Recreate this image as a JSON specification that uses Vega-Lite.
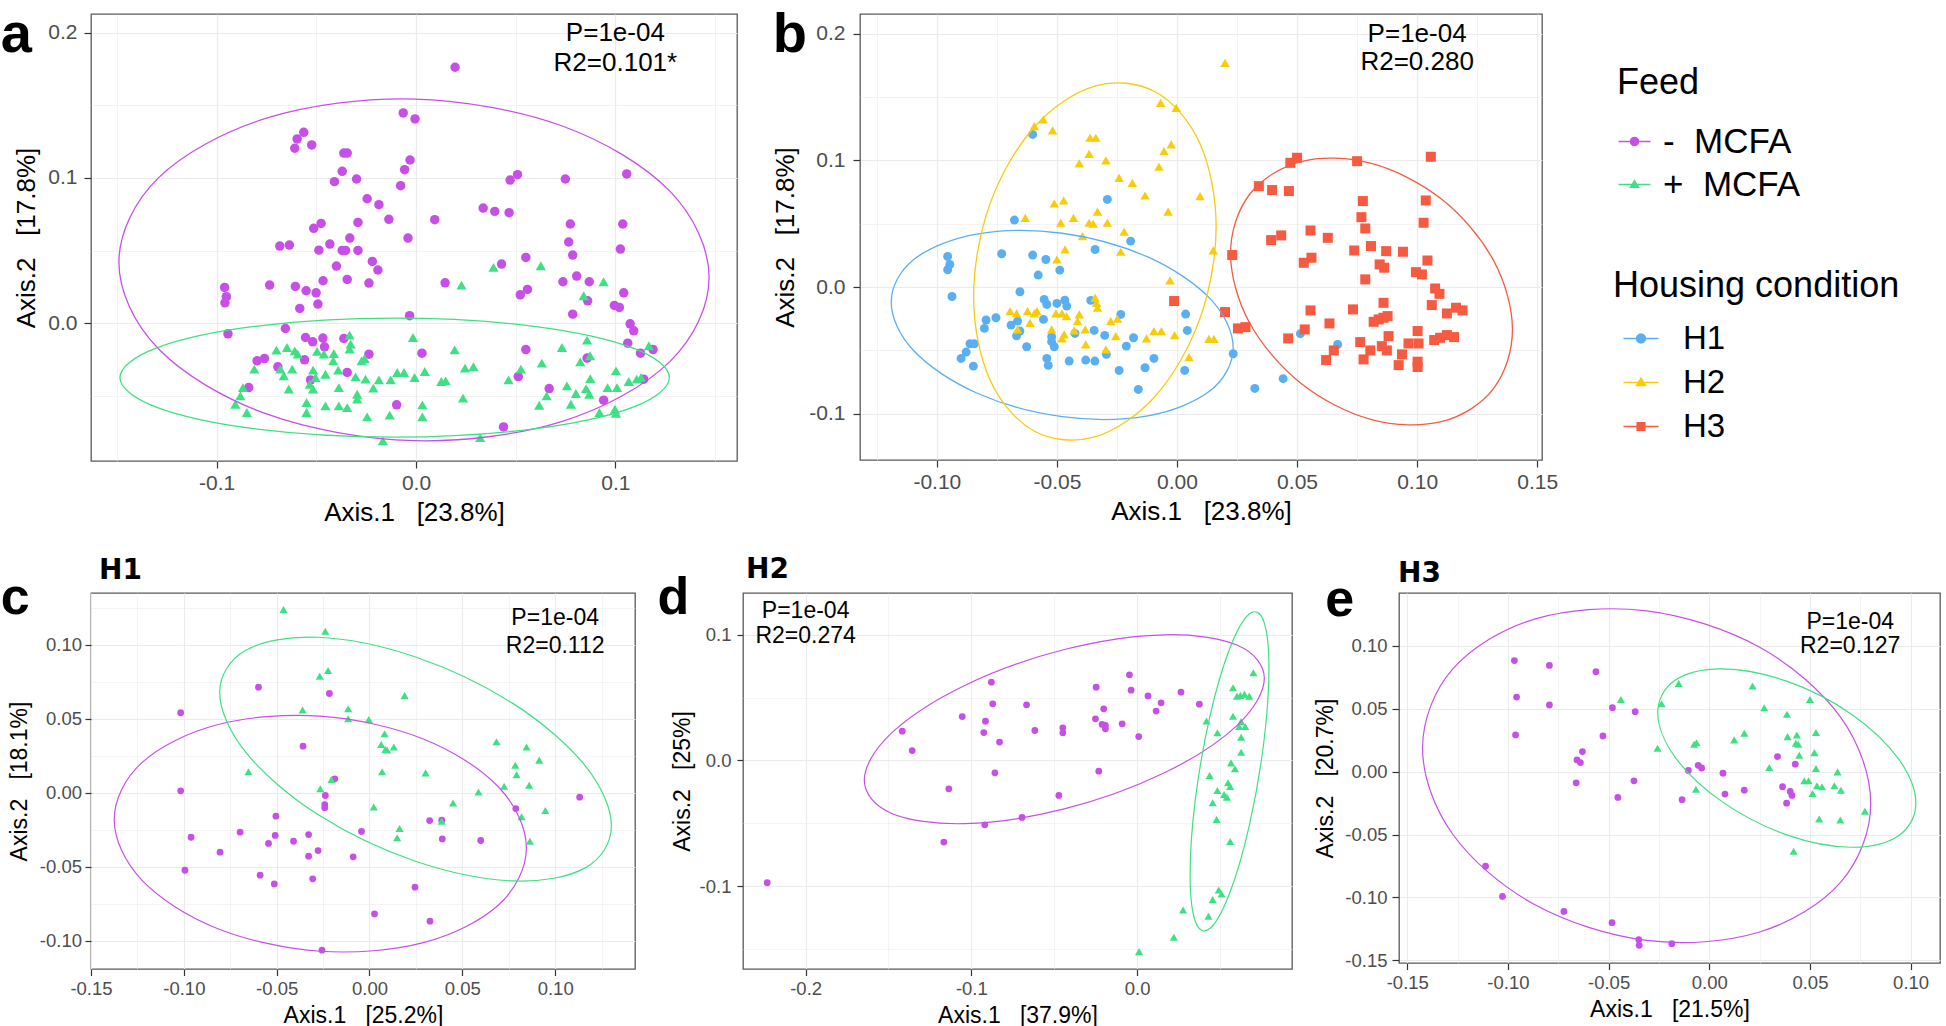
{
"$schema": "https://vega.github.io/schema/vega-lite/v6.json",
"padding": {"top": 6, "left": 0, "right": 0, "bottom": 0},
"background": "white",
"config": {
 "font": "Liberation Sans",
 "view": {"stroke": "#595959", "strokeWidth": 1.3},
 "axis": {"domain": false, "gridColor": "#ebebeb", "tickColor": "#333333", "tickWidth": 1.2, "labelColor": "#4d4d4d", "titleColor": "#000000", "titleFontWeight": "normal", "labelFlush": false, "labelOverlap": false, "labelBound": false, "labelFont": "Liberation Sans", "titleFont": "Liberation Sans"},
 "title": {"color": "#000000"}
},
"datasets": {
 "pa": [
{"g":"-MCFA","x":-0.0064,"y":0.1448},{"g":"-MCFA","x":-0.0005,"y":0.1407},{"g":"-MCFA","x":-0.0563,"y":0.1315},{"g":"-MCFA","x":-0.0596,"y":0.1269},{"g":"-MCFA","x":-0.0608,"y":0.1205},{"g":"-MCFA","x":-0.0523,"y":0.1228},{"g":"-MCFA","x":-0.0362,"y":0.1172},{"g":"-MCFA","x":-0.0345,"y":0.1172},{"g":"-MCFA","x":-0.003,"y":0.1124},{"g":"-MCFA","x":-0.0057,"y":0.1057},{"g":"-MCFA","x":-0.037,"y":0.1046},{"g":"-MCFA","x":-0.0409,"y":0.0975},{"g":"-MCFA","x":-0.0298,"y":0.0993},{"g":"-MCFA","x":-0.0077,"y":0.0947},{"g":"-MCFA","x":-0.0245,"y":0.0857},{"g":"-MCFA","x":-0.0186,"y":0.0816},{"g":"-MCFA","x":-0.0136,"y":0.0715},{"g":"-MCFA","x":-0.0291,"y":0.0694},{"g":"-MCFA","x":-0.0476,"y":0.0687},{"g":"-MCFA","x":-0.0513,"y":0.0653},{"g":"-MCFA","x":-0.004,"y":0.0586},{"g":"-MCFA","x":-0.0332,"y":0.0586},{"g":"-MCFA","x":-0.0683,"y":0.0531},{"g":"-MCFA","x":-0.0635,"y":0.0538},{"g":"-MCFA","x":-0.0432,"y":0.0545},{"g":"-MCFA","x":-0.0487,"y":0.0503},{"g":"-MCFA","x":-0.037,"y":0.0501},{"g":"-MCFA","x":-0.0353,"y":0.0501},{"g":"-MCFA","x":-0.0291,"y":0.0501},{"g":"-MCFA","x":-0.0219,"y":0.0425},{"g":"-MCFA","x":-0.0191,"y":0.0366},{"g":"-MCFA","x":-0.0399,"y":0.0393},{"g":"-MCFA","x":-0.0466,"y":0.0292},{"g":"-MCFA","x":-0.0345,"y":0.0301},{"g":"-MCFA","x":-0.0236,"y":0.0276},{"g":"-MCFA","x":-0.0734,"y":0.0262},{"g":"-MCFA","x":-0.0605,"y":0.0253},{"g":"-MCFA","x":-0.0551,"y":0.0223},{"g":"-MCFA","x":-0.0501,"y":0.0209},{"g":"-MCFA","x":-0.096,"y":0.0246},{"g":"-MCFA","x":-0.0951,"y":0.0182},{"g":"-MCFA","x":-0.0958,"y":0.014},{"g":"-MCFA","x":-0.0583,"y":0.0101},{"g":"-MCFA","x":-0.0492,"y":0.0131},{"g":"-MCFA","x":-0.0032,"y":0.0051},{"g":"-MCFA","x":-0.0655,"y":-0.0037},{"g":"-MCFA","x":-0.0943,"y":-0.0074},{"g":"-MCFA","x":-0.0554,"y":-0.0099},{"g":"-MCFA","x":-0.0518,"y":-0.0129},{"g":"-MCFA","x":-0.0467,"y":-0.0103},{"g":"-MCFA","x":-0.0459,"y":-0.0163},{"g":"-MCFA","x":-0.0362,"y":-0.0106},{"g":"-MCFA","x":-0.0236,"y":-0.0214},{"g":"-MCFA","x":-0.0559,"y":-0.0253},{"g":"-MCFA","x":-0.0797,"y":-0.026},{"g":"-MCFA","x":-0.076,"y":-0.0244},{"g":"-MCFA","x":-0.0693,"y":-0.0301},{"g":"-MCFA","x":-0.0345,"y":-0.034},{"g":"-MCFA","x":-0.0529,"y":-0.0391},{"g":"-MCFA","x":-0.0839,"y":-0.0444},{"g":"-MCFA","x":-0.0097,"y":-0.0563},{"g":"-MCFA","x":0.003,"y":-0.0207},
{"g":"-MCFA","x":0.0196,"y":0.1763},{"g":"-MCFA","x":0.0509,"y":0.1023},{"g":"-MCFA","x":0.0472,"y":0.0986},{"g":"-MCFA","x":0.0749,"y":0.0993},{"g":"-MCFA","x":0.1057,"y":0.1028},{"g":"-MCFA","x":0.0094,"y":0.0713},{"g":"-MCFA","x":0.0337,"y":0.0793},{"g":"-MCFA","x":0.0395,"y":0.077},{"g":"-MCFA","x":0.0467,"y":0.0761},{"g":"-MCFA","x":0.0774,"y":0.0683},{"g":"-MCFA","x":0.1037,"y":0.0683},{"g":"-MCFA","x":0.0766,"y":0.0559},{"g":"-MCFA","x":0.0786,"y":0.0469},{"g":"-MCFA","x":0.1025,"y":0.051},{"g":"-MCFA","x":0.0551,"y":0.0453},{"g":"-MCFA","x":0.0429,"y":0.0407},{"g":"-MCFA","x":0.0146,"y":0.0278},{"g":"-MCFA","x":0.0737,"y":0.0285},{"g":"-MCFA","x":0.0806,"y":0.0324},{"g":"-MCFA","x":0.0869,"y":0.0285},{"g":"-MCFA","x":0.1042,"y":0.0209},{"g":"-MCFA","x":0.0523,"y":0.0195},{"g":"-MCFA","x":0.0559,"y":0.0232},{"g":"-MCFA","x":0.0861,"y":0.0154},{"g":"-MCFA","x":0.0995,"y":0.0122},{"g":"-MCFA","x":0.102,"y":0.0108},{"g":"-MCFA","x":0.0786,"y":0.0062},{"g":"-MCFA","x":0.1074,"y":-0.0005},{"g":"-MCFA","x":0.1092,"y":-0.0053},{"g":"-MCFA","x":0.1062,"y":-0.0138},{"g":"-MCFA","x":0.1126,"y":-0.0207},{"g":"-MCFA","x":0.1189,"y":-0.0182},{"g":"-MCFA","x":0.0551,"y":-0.0182},{"g":"-MCFA","x":0.0513,"y":-0.0368},{"g":"-MCFA","x":0.1142,"y":-0.0386},{"g":"-MCFA","x":0.0668,"y":-0.0451},{"g":"-MCFA","x":0.0941,"y":-0.0531},{"g":"-MCFA","x":0.0439,"y":-0.0715},{"g":"-MCFA","x":0.0858,"y":-0.0241},
{"g":"+MCFA","x":-0.0333,"y":-0.0083},{"g":"+MCFA","x":-0.0015,"y":-0.0099},{"g":"+MCFA","x":-0.0328,"y":-0.0145},{"g":"+MCFA","x":-0.0333,"y":-0.0179},{"g":"+MCFA","x":-0.07,"y":-0.0186},{"g":"+MCFA","x":-0.0647,"y":-0.0168},{"g":"+MCFA","x":-0.0608,"y":-0.0191},{"g":"+MCFA","x":-0.0593,"y":-0.0214},{"g":"+MCFA","x":-0.0496,"y":-0.0195},{"g":"+MCFA","x":-0.0462,"y":-0.0214},{"g":"+MCFA","x":-0.0412,"y":-0.0209},{"g":"+MCFA","x":-0.0415,"y":-0.026},{"g":"+MCFA","x":-0.0273,"y":-0.026},{"g":"+MCFA","x":-0.0258,"y":-0.0244},{"g":"+MCFA","x":-0.0811,"y":-0.0317},{"g":"+MCFA","x":-0.068,"y":-0.0317},{"g":"+MCFA","x":-0.0663,"y":-0.0363},{"g":"+MCFA","x":-0.0621,"y":-0.0317},{"g":"+MCFA","x":-0.0516,"y":-0.0324},{"g":"+MCFA","x":-0.0504,"y":-0.0375},{"g":"+MCFA","x":-0.0454,"y":-0.0352},{"g":"+MCFA","x":-0.039,"y":-0.0324},{"g":"+MCFA","x":-0.0303,"y":-0.037},{"g":"+MCFA","x":-0.0253,"y":-0.0386},{"g":"+MCFA","x":-0.0186,"y":-0.0391},{"g":"+MCFA","x":-0.0127,"y":-0.0391},{"g":"+MCFA","x":-0.0094,"y":-0.034},{"g":"+MCFA","x":-0.006,"y":-0.034},{"g":"+MCFA","x":-0.0007,"y":-0.0375},{"g":"+MCFA","x":-0.0868,"y":-0.0444},{"g":"+MCFA","x":-0.0881,"y":-0.0501},{"g":"+MCFA","x":-0.0638,"y":-0.0455},{"g":"+MCFA","x":-0.0533,"y":-0.0421},{"g":"+MCFA","x":-0.0516,"y":-0.0455},{"g":"+MCFA","x":-0.0387,"y":-0.0444},{"g":"+MCFA","x":-0.0295,"y":-0.049},{"g":"+MCFA","x":-0.0214,"y":-0.0448},{"g":"+MCFA","x":-0.0906,"y":-0.0559},{"g":"+MCFA","x":-0.0848,"y":-0.0616},{"g":"+MCFA","x":-0.0549,"y":-0.0547},{"g":"+MCFA","x":-0.0549,"y":-0.0616},{"g":"+MCFA","x":-0.0454,"y":-0.057},{"g":"+MCFA","x":-0.0387,"y":-0.057},{"g":"+MCFA","x":-0.0345,"y":-0.0582},{"g":"+MCFA","x":-0.0295,"y":-0.0524},{"g":"+MCFA","x":-0.0245,"y":-0.0646},{"g":"+MCFA","x":-0.0132,"y":-0.0634},{"g":"+MCFA","x":0.0032,"y":-0.0646},{"g":"+MCFA","x":0.0032,"y":-0.0563},{"g":"+MCFA","x":-0.0166,"y":-0.0811},
{"g":"+MCFA","x":0.0389,"y":0.0384},{"g":"+MCFA","x":0.0228,"y":0.0262},{"g":"+MCFA","x":0.0626,"y":0.0395},{"g":"+MCFA","x":0.0941,"y":0.0285},{"g":"+MCFA","x":0.0841,"y":0.0189},{"g":"+MCFA","x":0.0194,"y":-0.0184},{"g":"+MCFA","x":0.0732,"y":-0.0168},{"g":"+MCFA","x":0.0858,"y":-0.0117},{"g":"+MCFA","x":0.0873,"y":-0.0225},{"g":"+MCFA","x":0.0824,"y":-0.0267},{"g":"+MCFA","x":0.1168,"y":-0.0156},{"g":"+MCFA","x":0.0044,"y":-0.0333},{"g":"+MCFA","x":0.0246,"y":-0.031},{"g":"+MCFA","x":0.0288,"y":-0.0301},{"g":"+MCFA","x":0.0127,"y":-0.0402},{"g":"+MCFA","x":0.0149,"y":-0.0398},{"g":"+MCFA","x":0.0526,"y":-0.0317},{"g":"+MCFA","x":0.0464,"y":-0.0391},{"g":"+MCFA","x":0.0631,"y":-0.0276},{"g":"+MCFA","x":0.1003,"y":-0.0329},{"g":"+MCFA","x":0.0874,"y":-0.0382},{"g":"+MCFA","x":0.0757,"y":-0.0432},{"g":"+MCFA","x":0.0802,"y":-0.0485},{"g":"+MCFA","x":0.0853,"y":-0.0451},{"g":"+MCFA","x":0.0869,"y":-0.049},{"g":"+MCFA","x":0.0961,"y":-0.0444},{"g":"+MCFA","x":0.1008,"y":-0.0444},{"g":"+MCFA","x":0.1067,"y":-0.0402},{"g":"+MCFA","x":0.1107,"y":-0.0386},{"g":"+MCFA","x":0.1129,"y":-0.0375},{"g":"+MCFA","x":0.0236,"y":-0.0517},{"g":"+MCFA","x":0.0655,"y":-0.0501},{"g":"+MCFA","x":0.0618,"y":-0.0566},{"g":"+MCFA","x":0.0777,"y":-0.0559},{"g":"+MCFA","x":0.092,"y":-0.0616},{"g":"+MCFA","x":0.0998,"y":-0.0593},{"g":"+MCFA","x":0.1003,"y":-0.0621},{"g":"+MCFA","x":0.0322,"y":-0.0789}
 ],
 "pb": [
{"g":"H1","x":-0.0601,"y":0.1205},{"g":"H1","x":-0.0677,"y":0.0529},{"g":"H1","x":-0.029,"y":0.0692},{"g":"H1","x":-0.0193,"y":0.0363},{"g":"H1","x":-0.0341,"y":0.0297},{"g":"H1","x":-0.073,"y":0.0263},{"g":"H1","x":-0.0601,"y":0.0253},{"g":"H1","x":-0.0546,"y":0.0218},{"g":"H1","x":-0.0488,"y":0.0134},{"g":"H1","x":-0.0578,"y":0.0095},{"g":"H1","x":-0.0955,"y":0.0242},{"g":"H1","x":-0.0946,"y":0.0179},{"g":"H1","x":-0.0955,"y":0.0137},{"g":"H1","x":-0.0937,"y":-0.0074},{"g":"H1","x":-0.0654,"y":-0.0037},{"g":"H1","x":-0.0553,"y":-0.0097},{"g":"H1","x":-0.0542,"y":-0.0137},{"g":"H1","x":-0.05,"y":-0.0129},{"g":"H1","x":-0.0467,"y":-0.0103},{"g":"H1","x":-0.0459,"y":-0.015},{"g":"H1","x":-0.0359,"y":-0.0105},{"g":"H1","x":-0.0234,"y":-0.0216},{"g":"H1","x":-0.0754,"y":-0.0242},{"g":"H1","x":-0.0795,"y":-0.026},{"g":"H1","x":-0.0802,"y":-0.0326},{"g":"H1","x":-0.0691,"y":-0.03},{"g":"H1","x":-0.0664,"y":-0.0268},{"g":"H1","x":-0.0654,"y":-0.0347},{"g":"H1","x":-0.0668,"y":-0.0384},{"g":"H1","x":-0.0626,"y":-0.0471},{"g":"H1","x":-0.0556,"y":-0.0255},{"g":"H1","x":-0.0522,"y":-0.0392},{"g":"H1","x":-0.0522,"y":-0.0431},{"g":"H1","x":-0.0511,"y":-0.0471},{"g":"H1","x":-0.0425,"y":-0.0366},{"g":"H1","x":-0.0345,"y":-0.0342},{"g":"H1","x":-0.0301,"y":-0.0381},{"g":"H1","x":-0.0211,"y":-0.0466},{"g":"H1","x":-0.0181,"y":-0.04},{"g":"H1","x":-0.0862,"y":-0.0447},{"g":"H1","x":-0.0844,"y":-0.0447},{"g":"H1","x":-0.0878,"y":-0.0513},{"g":"H1","x":-0.0899,"y":-0.0563},{"g":"H1","x":-0.0848,"y":-0.0624},{"g":"H1","x":-0.0542,"y":-0.0563},{"g":"H1","x":-0.0536,"y":-0.0618},{"g":"H1","x":-0.0449,"y":-0.0584},{"g":"H1","x":-0.038,"y":-0.0576},{"g":"H1","x":-0.0342,"y":-0.0584},{"g":"H1","x":-0.0294,"y":-0.0531},{"g":"H1","x":-0.0241,"y":-0.0658},{"g":"H1","x":-0.0133,"y":-0.0637},{"g":"H1","x":-0.0096,"y":-0.0563},{"g":"H1","x":-0.0161,"y":-0.0808},{"g":"H1","x":0.0032,"y":-0.0658},{"g":"H1","x":0.0036,"y":-0.0213},{"g":"H1","x":0.0043,"y":-0.0342},{"g":"H1","x":0.0234,"y":-0.0526},{"g":"H1","x":0.0324,"y":-0.08},{"g":"H1","x":0.0442,"y":-0.0723},{"g":"H1","x":0.0514,"y":-0.0368},{"g":"H1","x":0.0669,"y":-0.0453},
{"g":"H2","x":-0.0068,"y":0.1455},{"g":"H2","x":-0.0003,"y":0.1415},{"g":"H2","x":-0.0557,"y":0.1323},{"g":"H2","x":-0.0594,"y":0.1271},{"g":"H2","x":-0.0518,"y":0.1237},{"g":"H2","x":-0.0362,"y":0.1179},{"g":"H2","x":-0.0338,"y":0.1179},{"g":"H2","x":-0.0024,"y":0.1126},{"g":"H2","x":-0.0054,"y":0.1073},{"g":"H2","x":-0.0366,"y":0.1052},{"g":"H2","x":-0.0407,"y":0.0976},{"g":"H2","x":-0.0296,"y":0.1},{"g":"H2","x":-0.0075,"y":0.095},{"g":"H2","x":-0.0241,"y":0.0863},{"g":"H2","x":-0.0186,"y":0.0823},{"g":"H2","x":-0.0133,"y":0.0723},{"g":"H2","x":-0.0037,"y":0.0595},{"g":"H2","x":-0.0511,"y":0.066},{"g":"H2","x":-0.0472,"y":0.0684},{"g":"H2","x":-0.0632,"y":0.0547},{"g":"H2","x":-0.0431,"y":0.0547},{"g":"H2","x":-0.0484,"y":0.0508},{"g":"H2","x":-0.0366,"y":0.0508},{"g":"H2","x":-0.0349,"y":0.05},{"g":"H2","x":-0.0331,"y":0.0595},{"g":"H2","x":-0.029,"y":0.0508},{"g":"H2","x":-0.022,"y":0.0437},{"g":"H2","x":-0.0393,"y":0.0403},{"g":"H2","x":-0.0466,"y":0.0297},{"g":"H2","x":-0.05,"y":0.0218},{"g":"H2","x":-0.0234,"y":0.0279},{"g":"H2","x":-0.0029,"y":0.0053},{"g":"H2","x":-0.0341,"y":-0.0084},{"g":"H2","x":-0.0335,"y":-0.0124},{"g":"H2","x":-0.0331,"y":-0.0163},{"g":"H2","x":-0.0695,"y":-0.0189},{"g":"H2","x":-0.0668,"y":-0.0208},{"g":"H2","x":-0.0622,"y":-0.0189},{"g":"H2","x":-0.0594,"y":-0.0208},{"g":"H2","x":-0.0583,"y":-0.0189},{"g":"H2","x":-0.0612,"y":-0.0282},{"g":"H2","x":-0.0504,"y":-0.0208},{"g":"H2","x":-0.0479,"y":-0.0208},{"g":"H2","x":-0.046,"y":-0.0229},{"g":"H2","x":-0.0407,"y":-0.0216},{"g":"H2","x":-0.0414,"y":-0.0268},{"g":"H2","x":-0.0428,"y":-0.0342},{"g":"H2","x":-0.047,"y":-0.0374},{"g":"H2","x":-0.0479,"y":-0.0405},{"g":"H2","x":-0.0382,"y":-0.0334},{"g":"H2","x":-0.0276,"y":-0.0268},{"g":"H2","x":-0.0248,"y":-0.025},{"g":"H2","x":-0.0255,"y":-0.0387},{"g":"H2","x":-0.0296,"y":-0.0492},{"g":"H2","x":-0.038,"y":-0.0453},{"g":"H2","x":-0.0664,"y":-0.0334},{"g":"H2","x":-0.0127,"y":-0.0405},{"g":"H2","x":-0.0096,"y":-0.0347},{"g":"H2","x":-0.0065,"y":-0.0347},{"g":"H2","x":-0.001,"y":-0.0379},{"g":"H2","x":-0.0522,"y":-0.0334},{"g":"H2","x":0.02,"y":0.1771},{"g":"H2","x":0.0096,"y":0.0718},{"g":"H2","x":0.0151,"y":0.029},{"g":"H2","x":0.0133,"y":-0.0408},{"g":"H2","x":0.0154,"y":-0.0408},{"g":"H2","x":0.005,"y":-0.0553},
{"g":"H3","x":0.05,"y":0.1021},{"g":"H3","x":0.0472,"y":0.0981},{"g":"H3","x":0.075,"y":0.0994},{"g":"H3","x":0.1057,"y":0.1029},{"g":"H3","x":0.0341,"y":0.0797},{"g":"H3","x":0.0396,"y":0.0766},{"g":"H3","x":0.0466,"y":0.0758},{"g":"H3","x":0.0774,"y":0.0679},{"g":"H3","x":0.1036,"y":0.0684},{"g":"H3","x":0.0768,"y":0.0552},{"g":"H3","x":0.0784,"y":0.0463},{"g":"H3","x":0.1027,"y":0.0508},{"g":"H3","x":0.0556,"y":0.0447},{"g":"H3","x":0.0628,"y":0.0389},{"g":"H3","x":0.0392,"y":0.0371},{"g":"H3","x":0.0434,"y":0.0408},{"g":"H3","x":0.0738,"y":0.0289},{"g":"H3","x":0.0808,"y":0.0324},{"g":"H3","x":0.0871,"y":0.0284},{"g":"H3","x":0.0941,"y":0.0279},{"g":"H3","x":0.1043,"y":0.021},{"g":"H3","x":0.023,"y":0.0253},{"g":"H3","x":0.0528,"y":0.0192},{"g":"H3","x":0.056,"y":0.0232},{"g":"H3","x":0.0844,"y":0.0179},{"g":"H3","x":0.0863,"y":0.0153},{"g":"H3","x":0.0995,"y":0.0118},{"g":"H3","x":0.102,"y":0.01},{"g":"H3","x":0.0784,"y":0.0061},{"g":"H3","x":0.1075,"y":-0.0011},{"g":"H3","x":0.1093,"y":-0.0053},{"g":"H3","x":0.1061,"y":-0.0142},{"g":"H3","x":0.1124,"y":-0.0208},{"g":"H3","x":0.1162,"y":-0.0163},{"g":"H3","x":0.1189,"y":-0.0184},{"g":"H3","x":0.086,"y":-0.0124},{"g":"H3","x":0.0733,"y":-0.0176},{"g":"H3","x":0.0556,"y":-0.0184},{"g":"H3","x":-0.0012,"y":-0.011},{"g":"H3","x":0.02,"y":-0.0197},{"g":"H3","x":0.0635,"y":-0.0287},{"g":"H3","x":0.0819,"y":-0.0274},{"g":"H3","x":0.084,"y":-0.0255},{"g":"H3","x":0.086,"y":-0.0242},{"g":"H3","x":0.0877,"y":-0.0229},{"g":"H3","x":0.0254,"y":-0.0326},{"g":"H3","x":0.0285,"y":-0.0316},{"g":"H3","x":0.0532,"y":-0.0334},{"g":"H3","x":0.0463,"y":-0.0405},{"g":"H3","x":0.0763,"y":-0.0434},{"g":"H3","x":0.0881,"y":-0.0387},{"g":"H3","x":0.0853,"y":-0.0466},{"g":"H3","x":0.0874,"y":-0.05},{"g":"H3","x":0.0805,"y":-0.05},{"g":"H3","x":0.0964,"y":-0.0445},{"g":"H3","x":0.1006,"y":-0.0445},{"g":"H3","x":0.1002,"y":-0.0347},{"g":"H3","x":0.1071,"y":-0.0418},{"g":"H3","x":0.1096,"y":-0.04},{"g":"H3","x":0.1124,"y":-0.0379},{"g":"H3","x":0.1154,"y":-0.0395},{"g":"H3","x":0.0653,"y":-0.05},{"g":"H3","x":0.0621,"y":-0.0576},{"g":"H3","x":0.0777,"y":-0.0571},{"g":"H3","x":0.0937,"y":-0.0531},{"g":"H3","x":0.0923,"y":-0.0616},{"g":"H3","x":0.1002,"y":-0.0589},{"g":"H3","x":0.1002,"y":-0.0631}
 ],
 "pc": [
{"g":"-MCFA","x":-0.0598,"y":0.0714},{"g":"-MCFA","x":-0.0216,"y":0.0671},{"g":"-MCFA","x":-0.1017,"y":0.0541},{"g":"-MCFA","x":-0.0358,"y":0.0315},{"g":"-MCFA","x":-0.0187,"y":0.0095},{"g":"-MCFA","x":-0.1017,"y":0.0014},{"g":"-MCFA","x":-0.0238,"y":-0.0018},{"g":"-MCFA","x":-0.0241,"y":-0.0079},{"g":"-MCFA","x":-0.0241,"y":-0.0101},{"g":"-MCFA","x":-0.0504,"y":-0.0158},{"g":"-MCFA","x":-0.0961,"y":-0.03},{"g":"-MCFA","x":-0.0697,"y":-0.0266},{"g":"-MCFA","x":-0.0508,"y":-0.0288},{"g":"-MCFA","x":-0.0544,"y":-0.0342},{"g":"-MCFA","x":-0.0409,"y":-0.0327},{"g":"-MCFA","x":-0.0328,"y":-0.0282},{"g":"-MCFA","x":-0.0805,"y":-0.0401},{"g":"-MCFA","x":-0.0277,"y":-0.039},{"g":"-MCFA","x":-0.0328,"y":-0.0428},{"g":"-MCFA","x":-0.0088,"y":-0.0432},{"g":"-MCFA","x":-0.0043,"y":-0.0261},{"g":"-MCFA","x":-0.0994,"y":-0.0523},{"g":"-MCFA","x":-0.0589,"y":-0.0556},{"g":"-MCFA","x":-0.0513,"y":-0.0615},{"g":"-MCFA","x":-0.0306,"y":-0.0581},{"g":"-MCFA","x":0.0245,"y":-0.0637},{"g":"-MCFA","x":0.0027,"y":-0.0818},{"g":"-MCFA","x":0.0326,"y":-0.0867},{"g":"-MCFA","x":-0.0256,"y":-0.1063},{"g":"-MCFA","x":0.0324,"y":-0.0187},{"g":"-MCFA","x":0.0389,"y":-0.0185},{"g":"-MCFA","x":0.0392,"y":-0.0311},{"g":"-MCFA","x":0.0599,"y":-0.0322},{"g":"-MCFA","x":0.0788,"y":-0.0106},{"g":"-MCFA","x":0.1132,"y":-0.0029},
{"g":"+MCFA","x":-0.0463,"y":0.1239},{"g":"+MCFA","x":-0.0238,"y":0.1092},{"g":"+MCFA","x":-0.0268,"y":0.0788},{"g":"+MCFA","x":-0.0223,"y":0.0827},{"g":"+MCFA","x":0.0189,"y":0.0658},{"g":"+MCFA","x":-0.036,"y":0.0559},{"g":"+MCFA","x":-0.0115,"y":0.0568},{"g":"+MCFA","x":-0.0115,"y":0.05},{"g":"+MCFA","x":-0.0004,"y":0.0495},{"g":"+MCFA","x":0.0081,"y":0.0399},{"g":"+MCFA","x":0.0063,"y":0.0327},{"g":"+MCFA","x":0.0086,"y":0.0293},{"g":"+MCFA","x":0.0095,"y":0.0289},{"g":"+MCFA","x":0.0131,"y":0.0309},{"g":"+MCFA","x":0.0068,"y":0.0142},{"g":"+MCFA","x":0.0302,"y":0.0135},{"g":"+MCFA","x":-0.0652,"y":0.0142},{"g":"+MCFA","x":-0.0265,"y":0.0027},{"g":"+MCFA","x":-0.0205,"y":0.009},{"g":"+MCFA","x":0.0023,"y":-0.0095},{"g":"+MCFA","x":0.0162,"y":-0.0241},{"g":"+MCFA","x":0.0149,"y":-0.0304},{"g":"+MCFA","x":0.045,"y":-0.0068},{"g":"+MCFA","x":0.0587,"y":0.0005},{"g":"+MCFA","x":0.0684,"y":0.0345},{"g":"+MCFA","x":0.0846,"y":0.0309},{"g":"+MCFA","x":0.0914,"y":0.0221},{"g":"+MCFA","x":0.0785,"y":0.0187},{"g":"+MCFA","x":0.0792,"y":0.0122},{"g":"+MCFA","x":0.0725,"y":0.0045},{"g":"+MCFA","x":0.086,"y":0.0052},{"g":"+MCFA","x":0.0947,"y":-0.0119},{"g":"+MCFA","x":0.0819,"y":-0.0162},{"g":"+MCFA","x":0.0864,"y":-0.0327},{"g":"+MCFA","x":0.0389,"y":-0.0191}
 ],
 "pd": [
{"g":"-MCFA","x":-0.2232,"y":-0.0971},{"g":"-MCFA","x":-0.1417,"y":0.0233},{"g":"-MCFA","x":-0.1357,"y":0.0079},{"g":"-MCFA","x":-0.1136,"y":-0.0225},{"g":"-MCFA","x":-0.1166,"y":-0.0648},{"g":"-MCFA","x":-0.1055,"y":0.0349},{"g":"-MCFA","x":-0.0915,"y":0.0312},{"g":"-MCFA","x":-0.0925,"y":0.0222},{"g":"-MCFA","x":-0.0879,"y":0.0622},{"g":"-MCFA","x":-0.0871,"y":0.045},{"g":"-MCFA","x":-0.083,"y":0.0146},{"g":"-MCFA","x":-0.0858,"y":-0.0098},{"g":"-MCFA","x":-0.0919,"y":-0.0511},{"g":"-MCFA","x":-0.0694,"y":-0.0452},{"g":"-MCFA","x":-0.0667,"y":0.0442},{"g":"-MCFA","x":-0.0617,"y":0.0238},{"g":"-MCFA","x":-0.0448,"y":0.0259},{"g":"-MCFA","x":-0.0448,"y":0.022},{"g":"-MCFA","x":-0.0472,"y":-0.0278},{"g":"-MCFA","x":-0.0247,"y":0.0582},{"g":"-MCFA","x":-0.0251,"y":0.0331},{"g":"-MCFA","x":-0.0201,"y":0.041},{"g":"-MCFA","x":-0.0211,"y":0.0286},{"g":"-MCFA","x":-0.0191,"y":0.0278},{"g":"-MCFA","x":-0.0191,"y":0.0251},{"g":"-MCFA","x":-0.0231,"y":-0.0085},{"g":"-MCFA","x":-0.009,"y":0.0291},{"g":"-MCFA","x":-0.0046,"y":0.068},{"g":"-MCFA","x":-0.0036,"y":0.0558},{"g":"-MCFA","x":0.001,"y":0.019},{"g":"-MCFA","x":0.0066,"y":0.0513},{"g":"-MCFA","x":0.0115,"y":0.0392},{"g":"-MCFA","x":0.0145,"y":0.0458},{"g":"-MCFA","x":0.0265,"y":0.0542},{"g":"-MCFA","x":0.0376,"y":0.0447},
{"g":"+MCFA","x":0.0702,"y":0.0697},{"g":"+MCFA","x":0.0579,"y":0.0577},{"g":"+MCFA","x":0.0623,"y":0.0517},{"g":"+MCFA","x":0.0648,"y":0.0527},{"g":"+MCFA","x":0.0677,"y":0.0511},{"g":"+MCFA","x":0.0603,"y":0.0511},{"g":"+MCFA","x":0.0419,"y":0.0313},{"g":"+MCFA","x":0.0579,"y":0.0352},{"g":"+MCFA","x":0.0628,"y":0.031},{"g":"+MCFA","x":0.0616,"y":0.027},{"g":"+MCFA","x":0.0653,"y":0.027},{"g":"+MCFA","x":0.0485,"y":0.022},{"g":"+MCFA","x":0.0628,"y":0.0185},{"g":"+MCFA","x":0.0628,"y":0.0066},{"g":"+MCFA","x":0.0567,"y":-0.0019},{"g":"+MCFA","x":0.0591,"y":-0.0066},{"g":"+MCFA","x":0.0438,"y":-0.0119},{"g":"+MCFA","x":0.0549,"y":-0.0177},{"g":"+MCFA","x":0.0562,"y":-0.0207},{"g":"+MCFA","x":0.0485,"y":-0.0238},{"g":"+MCFA","x":0.0525,"y":-0.027},{"g":"+MCFA","x":0.0542,"y":-0.0291},{"g":"+MCFA","x":0.0456,"y":-0.0336},{"g":"+MCFA","x":0.048,"y":-0.0469},{"g":"+MCFA","x":0.0562,"y":-0.0644},{"g":"+MCFA","x":0.0493,"y":-0.1028},{"g":"+MCFA","x":0.051,"y":-0.106},{"g":"+MCFA","x":0.0456,"y":-0.1105},{"g":"+MCFA","x":0.0431,"y":-0.1237},{"g":"+MCFA","x":0.0278,"y":-0.1187},{"g":"+MCFA","x":0.0222,"y":-0.1404},{"g":"+MCFA","x":0.0012,"y":-0.1518}
 ],
 "pe": [
{"g":"-MCFA","x":-0.0968,"y":0.0881},{"g":"-MCFA","x":-0.0794,"y":0.0842},{"g":"-MCFA","x":-0.0563,"y":0.0792},{"g":"-MCFA","x":-0.0957,"y":0.0591},{"g":"-MCFA","x":-0.0794,"y":0.0528},{"g":"-MCFA","x":-0.0962,"y":0.029},{"g":"-MCFA","x":-0.0481,"y":0.0507},{"g":"-MCFA","x":-0.0368,"y":0.0475},{"g":"-MCFA","x":-0.0528,"y":0.0282},{"g":"-MCFA","x":-0.063,"y":0.0158},{"g":"-MCFA","x":-0.0657,"y":0.0092},{"g":"-MCFA","x":-0.064,"y":0.0071},{"g":"-MCFA","x":-0.0661,"y":-0.009},{"g":"-MCFA","x":-0.0374,"y":-0.0074},{"g":"-MCFA","x":-0.0454,"y":-0.0206},{"g":"-MCFA","x":-0.0135,"y":-0.0224},{"g":"-MCFA","x":-0.1111,"y":-0.0752},{"g":"-MCFA","x":-0.1027,"y":-0.0992},{"g":"-MCFA","x":-0.0722,"y":-0.1111},{"g":"-MCFA","x":-0.0483,"y":-0.12},{"g":"-MCFA","x":-0.035,"y":-0.1335},{"g":"-MCFA","x":-0.0348,"y":-0.138},{"g":"-MCFA","x":-0.0186,"y":-0.1367},{"g":"-MCFA","x":-0.0104,"y":0.0008},{"g":"-MCFA","x":-0.0055,"y":0.0049},{"g":"-MCFA","x":-0.0038,"y":0.0028},{"g":"-MCFA","x":0.0068,"y":-0.0013},{"g":"-MCFA","x":0.0078,"y":-0.0179},{"g":"-MCFA","x":0.0174,"y":-0.0148},{"g":"-MCFA","x":0.0339,"y":0.0119},{"g":"-MCFA","x":0.0427,"y":0.0058},{"g":"-MCFA","x":0.0364,"y":-0.0121},{"g":"-MCFA","x":0.0402,"y":-0.0158},{"g":"-MCFA","x":0.0411,"y":-0.019},{"g":"-MCFA","x":0.0384,"y":-0.0251},
{"g":"+MCFA","x":-0.0439,"y":0.0572},{"g":"+MCFA","x":-0.0237,"y":0.0538},{"g":"+MCFA","x":-0.0152,"y":0.0699},{"g":"+MCFA","x":0.0215,"y":0.0678},{"g":"+MCFA","x":-0.0257,"y":0.0185},{"g":"+MCFA","x":-0.0075,"y":0.0216},{"g":"+MCFA","x":-0.0063,"y":0.0229},{"g":"+MCFA","x":-0.0066,"y":-0.014},{"g":"+MCFA","x":0.0124,"y":0.0251},{"g":"+MCFA","x":0.0174,"y":0.0303},{"g":"+MCFA","x":0.0273,"y":0.0506},{"g":"+MCFA","x":0.0386,"y":0.0454},{"g":"+MCFA","x":0.05,"y":0.0572},{"g":"+MCFA","x":0.0298,"y":0.0032},{"g":"+MCFA","x":0.0389,"y":0.0277},{"g":"+MCFA","x":0.0435,"y":0.029},{"g":"+MCFA","x":0.043,"y":0.0224},{"g":"+MCFA","x":0.0442,"y":0.0216},{"g":"+MCFA","x":0.0447,"y":0.0129},{"g":"+MCFA","x":0.053,"y":0.0309},{"g":"+MCFA","x":0.0522,"y":0.015},{"g":"+MCFA","x":0.053,"y":0.0024},{"g":"+MCFA","x":0.0637,"y":-0.0003},{"g":"+MCFA","x":0.0472,"y":-0.0074},{"g":"+MCFA","x":0.0493,"y":-0.0074},{"g":"+MCFA","x":0.0535,"y":-0.0113},{"g":"+MCFA","x":0.056,"y":-0.0121},{"g":"+MCFA","x":0.0621,"y":-0.0113},{"g":"+MCFA","x":0.0654,"y":-0.0148},{"g":"+MCFA","x":0.0513,"y":-0.0174},{"g":"+MCFA","x":0.0773,"y":-0.0316},{"g":"+MCFA","x":0.0546,"y":-0.0377},{"g":"+MCFA","x":0.0651,"y":-0.0385},{"g":"+MCFA","x":0.0419,"y":-0.0633}
 ],
 "ea": [
{"g":"-MCFA","i":0,"x":0.147,"y":0.0315},{"g":"-MCFA","i":1,"x":0.1272,"y":0.0911},{"g":"-MCFA","i":2,"x":0.073,"y":0.136},{"g":"-MCFA","i":3,"x":-0.001,"y":0.1544},{"g":"-MCFA","i":4,"x":-0.075,"y":0.1412},{"g":"-MCFA","i":5,"x":-0.1292,"y":0.1001},{"g":"-MCFA","i":6,"x":-0.149,"y":0.0419},{"g":"-MCFA","i":7,"x":-0.1292,"y":-0.0177},{"g":"-MCFA","i":8,"x":-0.075,"y":-0.0626},{"g":"-MCFA","i":9,"x":-0.001,"y":-0.081},{"g":"-MCFA","i":10,"x":0.073,"y":-0.0678},{"g":"-MCFA","i":11,"x":0.1272,"y":-0.0267},
{"g":"+MCFA","i":0,"x":0.1271,"y":-0.0375},{"g":"+MCFA","i":1,"x":0.1086,"y":-0.017},{"g":"+MCFA","i":2,"x":0.0582,"y":-0.002},{"g":"+MCFA","i":3,"x":-0.0107,"y":0.0035},{"g":"+MCFA","i":4,"x":-0.0796,"y":-0.002},{"g":"+MCFA","i":5,"x":-0.13,"y":-0.017},{"g":"+MCFA","i":6,"x":-0.1485,"y":-0.0375},{"g":"+MCFA","i":7,"x":-0.13,"y":-0.058},{"g":"+MCFA","i":8,"x":-0.0796,"y":-0.073},{"g":"+MCFA","i":9,"x":-0.0107,"y":-0.0785},{"g":"+MCFA","i":10,"x":0.0582,"y":-0.073},{"g":"+MCFA","i":11,"x":0.1086,"y":-0.058}
 ],
 "eb": [
{"g":"H1","i":0,"x":0.0234,"y":-0.0479},{"g":"H1","i":1,"x":0.0139,"y":-0.0093},{"g":"H1","i":2,"x":-0.0122,"y":0.0238},{"g":"H1","i":3,"x":-0.0478,"y":0.0425},{"g":"H1","i":4,"x":-0.0834,"y":0.0418},{"g":"H1","i":5,"x":-0.1095,"y":0.0219},{"g":"H1","i":6,"x":-0.119,"y":-0.0119},{"g":"H1","i":7,"x":-0.1095,"y":-0.0505},{"g":"H1","i":8,"x":-0.0834,"y":-0.0836},{"g":"H1","i":9,"x":-0.0478,"y":-0.1023},{"g":"H1","i":10,"x":-0.0122,"y":-0.1016},{"g":"H1","i":11,"x":0.0139,"y":-0.0817},
{"g":"H2","i":0,"x":0.0163,"y":0.0479},{"g":"H2","i":1,"x":0.0095,"y":0.1135},{"g":"H2","i":2,"x":-0.0089,"y":0.154},{"g":"H2","i":3,"x":-0.0342,"y":0.1587},{"g":"H2","i":4,"x":-0.0595,"y":0.1262},{"g":"H2","i":5,"x":-0.0779,"y":0.0655},{"g":"H2","i":6,"x":-0.0847,"y":-0.0075},{"g":"H2","i":7,"x":-0.0779,"y":-0.0731},{"g":"H2","i":8,"x":-0.0595,"y":-0.1136},{"g":"H2","i":9,"x":-0.0342,"y":-0.1183},{"g":"H2","i":10,"x":-0.0089,"y":-0.0858},{"g":"H2","i":11,"x":0.0095,"y":-0.0251},
{"g":"H3","i":0,"x":0.1397,"y":-0.0335},{"g":"H3","i":1,"x":0.1318,"y":0.0211},{"g":"H3","i":2,"x":0.1104,"y":0.0691},{"g":"H3","i":3,"x":0.081,"y":0.0976},{"g":"H3","i":4,"x":0.0517,"y":0.0991},{"g":"H3","i":5,"x":0.0302,"y":0.0731},{"g":"H3","i":6,"x":0.0223,"y":0.0265},{"g":"H3","i":7,"x":0.0302,"y":-0.0281},{"g":"H3","i":8,"x":0.0517,"y":-0.0761},{"g":"H3","i":9,"x":0.081,"y":-0.1046},{"g":"H3","i":10,"x":0.1104,"y":-0.1061},{"g":"H3","i":11,"x":0.1318,"y":-0.0801}
 ],
 "ec": [
{"g":"-MCFA","i":0,"x":0.0845,"y":-0.0372},{"g":"-MCFA","i":1,"x":0.0696,"y":0.0038},{"g":"-MCFA","i":2,"x":0.029,"y":0.0364},{"g":"-MCFA","i":3,"x":-0.0265,"y":0.0518},{"g":"-MCFA","i":4,"x":-0.082,"y":0.046},{"g":"-MCFA","i":5,"x":-0.1226,"y":0.0204},{"g":"-MCFA","i":6,"x":-0.1375,"y":-0.018},{"g":"-MCFA","i":7,"x":-0.1226,"y":-0.059},{"g":"-MCFA","i":8,"x":-0.082,"y":-0.0916},{"g":"-MCFA","i":9,"x":-0.0265,"y":-0.107},{"g":"-MCFA","i":10,"x":0.029,"y":-0.1012},{"g":"-MCFA","i":11,"x":0.0696,"y":-0.0756},
{"g":"+MCFA","i":0,"x":0.1303,"y":-0.0222},{"g":"+MCFA","i":1,"x":0.1162,"y":0.0183},{"g":"+MCFA","i":2,"x":0.0776,"y":0.0601},{"g":"+MCFA","i":3,"x":0.0248,"y":0.0918},{"g":"+MCFA","i":4,"x":-0.028,"y":0.1051},{"g":"+MCFA","i":5,"x":-0.0666,"y":0.0963},{"g":"+MCFA","i":6,"x":-0.0807,"y":0.0678},{"g":"+MCFA","i":7,"x":-0.0666,"y":0.0273},{"g":"+MCFA","i":8,"x":-0.028,"y":-0.0145},{"g":"+MCFA","i":9,"x":0.0248,"y":-0.0462},{"g":"+MCFA","i":10,"x":0.0776,"y":-0.0595},{"g":"+MCFA","i":11,"x":0.1162,"y":-0.0507}
 ],
 "ed": [
{"g":"-MCFA","i":0,"x":0.0768,"y":0.0652},{"g":"-MCFA","i":1,"x":0.0606,"y":0.0915},{"g":"-MCFA","i":2,"x":0.0165,"y":0.0998},{"g":"-MCFA","i":3,"x":-0.0439,"y":0.0881},{"g":"-MCFA","i":4,"x":-0.1043,"y":0.0594},{"g":"-MCFA","i":5,"x":-0.1484,"y":0.0215},{"g":"-MCFA","i":6,"x":-0.1646,"y":-0.0156},{"g":"-MCFA","i":7,"x":-0.1484,"y":-0.0419},{"g":"-MCFA","i":8,"x":-0.1043,"y":-0.0502},{"g":"-MCFA","i":9,"x":-0.0439,"y":-0.0385},{"g":"-MCFA","i":10,"x":0.0165,"y":-0.0098},{"g":"-MCFA","i":11,"x":0.0606,"y":0.0281},
{"g":"+MCFA","i":0,"x":0.0796,"y":0.073},{"g":"+MCFA","i":1,"x":0.0764,"y":0.1107},{"g":"+MCFA","i":2,"x":0.0677,"y":0.1163},{"g":"+MCFA","i":3,"x":0.0558,"y":0.0885},{"g":"+MCFA","i":4,"x":0.0439,"y":0.0347},{"g":"+MCFA","i":5,"x":0.0352,"y":-0.0307},{"g":"+MCFA","i":6,"x":0.032,"y":-0.0902},{"g":"+MCFA","i":7,"x":0.0352,"y":-0.1279},{"g":"+MCFA","i":8,"x":0.0439,"y":-0.1335},{"g":"+MCFA","i":9,"x":0.0558,"y":-0.1057},{"g":"+MCFA","i":10,"x":0.0677,"y":-0.0519},{"g":"+MCFA","i":11,"x":0.0764,"y":0.0135}
 ],
 "ee": [
{"g":"-MCFA","i":0,"x":0.0802,"y":-0.0253},{"g":"-MCFA","i":1,"x":0.0653,"y":0.043},{"g":"-MCFA","i":2,"x":0.0246,"y":0.099},{"g":"-MCFA","i":3,"x":-0.0311,"y":0.1275},{"g":"-MCFA","i":4,"x":-0.0868,"y":0.121},{"g":"-MCFA","i":5,"x":-0.1275,"y":0.0812},{"g":"-MCFA","i":6,"x":-0.1424,"y":0.0187},{"g":"-MCFA","i":7,"x":-0.1275,"y":-0.0496},{"g":"-MCFA","i":8,"x":-0.0868,"y":-0.1056},{"g":"-MCFA","i":9,"x":-0.0311,"y":-0.1341},{"g":"-MCFA","i":10,"x":0.0246,"y":-0.1276},{"g":"-MCFA","i":11,"x":0.0653,"y":-0.0878},
{"g":"+MCFA","i":0,"x":0.1026,"y":-0.0253},{"g":"+MCFA","i":1,"x":0.094,"y":0.01},{"g":"+MCFA","i":2,"x":0.0706,"y":0.0455},{"g":"+MCFA","i":3,"x":0.0385,"y":0.0717},{"g":"+MCFA","i":4,"x":0.0065,"y":0.0815},{"g":"+MCFA","i":5,"x":-0.017,"y":0.0724},{"g":"+MCFA","i":6,"x":-0.0256,"y":0.0467},{"g":"+MCFA","i":7,"x":-0.017,"y":0.0114},{"g":"+MCFA","i":8,"x":0.0065,"y":-0.0241},{"g":"+MCFA","i":9,"x":0.0385,"y":-0.0503},{"g":"+MCFA","i":10,"x":0.0706,"y":-0.0601},{"g":"+MCFA","i":11,"x":0.094,"y":-0.051}
 ]
},
"resolve": {"scale": {"color": "independent", "fill": "independent", "stroke": "independent", "shape": "independent", "size": "independent"}},
"spacing": 28,
"vconcat": [
 {
  "hconcat": [
   {
    "width": 646, "height": 447,
    "title": {"text": "a", "anchor": "start", "frame": "bounds", "font": "Liberation Sans", "fontSize": 56, "fontWeight": "bold", "dx": -13, "dy": 94, "offset": 0, "baseline": "alphabetic"},
    "layer": [
     {"data": {"name": "pa"}, "mark": {"type": "point", "filled": true, "opacity": 1},
      "encoding": {
       "x": {"field": "x", "type": "quantitative", "scale": {"domain": [-0.163, 0.161], "nice": false, "zero": false},
        "axis": {"title": "Axis.1\u00a0\u00a0\u00a0[23.8%]", "values": [-0.15,-0.1,-0.05,0,0.05,0.1,0.15], "labelFontSize": 21, "titleFontSize": 26, "tickSize": 7, "labelPadding": 4, "titlePadding": 6,
         "labelExpr": "abs(datum.value*10-round(datum.value*10))<0.001 ? replace(format(datum.value,'.1f'),'\u2212','-') : ''",
         "tickOpacity": {"condition": {"test": "abs(datum.value*10-round(datum.value*10))<0.001", "value": 1}, "value": 0},
         "gridWidth": {"condition": {"test": "abs(datum.value*10-round(datum.value*10))<0.001", "value": 1.2}, "value": 0.6}}},
       "y": {"field": "y", "type": "quantitative", "scale": {"domain": [-0.095, 0.213], "nice": false, "zero": false},
        "axis": {"title": "Axis.2\u00a0\u00a0\u00a0[17.8%]", "values": [-0.05,0,0.05,0.1,0.15,0.2], "labelFontSize": 21, "titleFontSize": 26, "tickSize": 7, "labelPadding": 7, "titlePadding": 8,
         "labelExpr": "abs(datum.value*10-round(datum.value*10))<0.001 ? replace(format(datum.value,'.1f'),'\u2212','-') : ''",
         "tickOpacity": {"condition": {"test": "abs(datum.value*10-round(datum.value*10))<0.001", "value": 1}, "value": 0},
         "gridWidth": {"condition": {"test": "abs(datum.value*10-round(datum.value*10))<0.001", "value": 1.2}, "value": 0.6}}},
       "color": {"field": "g", "type": "nominal", "scale": {"domain": ["-MCFA", "+MCFA"], "range": ["#c74fe8", "#3fe083"]}, "legend": null},
       "shape": {"field": "g", "type": "nominal", "scale": {"domain": ["-MCFA", "+MCFA"], "range": ["circle", "triangle-up"]}, "legend": null},
       "size": {"field": "g", "type": "ordinal", "scale": {"domain": ["-MCFA", "+MCFA"], "range": [90, 105]}, "legend": null}
      }},
     {"data": {"name": "ea"}, "mark": {"type": "line", "interpolate": "cardinal-closed", "strokeWidth": 1.3},
      "encoding": {"x": {"field": "x", "type": "quantitative"}, "y": {"field": "y", "type": "quantitative"},
       "color": {"field": "g", "type": "nominal", "legend": null}, "order": {"field": "i", "type": "quantitative"}}},
     {"data": {"values": [{"x": 0.1, "y": 0.2, "t": "P=1e-04"}, {"x": 0.1, "y": 0.179, "t": "R2=0.101*"}]},
      "mark": {"type": "text", "fontSize": 26, "color": "#000000", "baseline": "middle", "align": "center"},
      "encoding": {"x": {"field": "x", "type": "quantitative"}, "y": {"field": "y", "type": "quantitative"}, "text": {"field": "t"}}}
    ]
   },
   {
    "width": 682, "height": 446,
    "title": {"text": "b", "anchor": "start", "frame": "bounds", "font": "Liberation Sans", "fontSize": 56, "fontWeight": "bold", "dx": 0, "dy": 94, "offset": 0, "baseline": "alphabetic"},
    "layer": [
     {"data": {"name": "pb"}, "mark": {"type": "point", "filled": true, "opacity": 1},
      "encoding": {
       "x": {"field": "x", "type": "quantitative", "scale": {"domain": [-0.132, 0.152], "nice": false, "zero": false},
        "axis": {"title": "Axis.1\u00a0\u00a0\u00a0[23.8%]", "values": [-0.125,-0.1,-0.075,-0.05,-0.025,0,0.025,0.05,0.075,0.1,0.125,0.15], "labelFontSize": 21, "titleFontSize": 26, "tickSize": 7, "labelPadding": 4, "titlePadding": 6,
         "labelExpr": "abs(datum.value*20-round(datum.value*20))<0.001 ? replace(format(datum.value,'.2f'),'\u2212','-') : ''",
         "tickOpacity": {"condition": {"test": "abs(datum.value*20-round(datum.value*20))<0.001", "value": 1}, "value": 0},
         "gridWidth": {"condition": {"test": "abs(datum.value*20-round(datum.value*20))<0.001", "value": 1.2}, "value": 0.6}}},
       "y": {"field": "y", "type": "quantitative", "scale": {"domain": [-0.1365, 0.2156], "nice": false, "zero": false},
        "axis": {"title": "Axis.2\u00a0\u00a0\u00a0[17.8%]", "values": [-0.1,-0.05,0,0.05,0.1,0.15,0.2], "labelFontSize": 21, "titleFontSize": 26, "tickSize": 7, "labelPadding": 8, "titlePadding": 10,
         "labelExpr": "abs(datum.value*10-round(datum.value*10))<0.001 ? replace(format(datum.value,'.1f'),'\u2212','-') : ''",
         "tickOpacity": {"condition": {"test": "abs(datum.value*10-round(datum.value*10))<0.001", "value": 1}, "value": 0},
         "gridWidth": {"condition": {"test": "abs(datum.value*10-round(datum.value*10))<0.001", "value": 1.2}, "value": 0.6}}},
       "fill": {"field": "g", "type": "nominal", "scale": {"domain": ["H1", "H2", "H3"], "range": ["#5aaff2", "#f8cb0b", "#f65a41"]}, "legend": null},
       "shape": {"field": "g", "type": "nominal", "scale": {"domain": ["H1", "H2", "H3"], "range": ["circle", "triangle-up", "square"]}, "legend": null},
       "size": {"field": "g", "type": "ordinal", "scale": {"domain": ["H1", "H2", "H3"], "range": [80, 100, 70]}, "legend": null}
      }},
     {"data": {"name": "eb"}, "mark": {"type": "line", "interpolate": "cardinal-closed", "strokeWidth": 1.3},
      "encoding": {"x": {"field": "x", "type": "quantitative"}, "y": {"field": "y", "type": "quantitative"},
       "stroke": {"field": "g", "type": "nominal", "scale": {"domain": ["H1", "H2", "H3"], "range": ["#5aaff2", "#f8cb0b", "#f65a41"]}, "legend": null}, "order": {"field": "i", "type": "quantitative"}}},
     {"data": {"values": [{"x": 0.1, "y": 0.2, "t": "P=1e-04"}, {"x": 0.1, "y": 0.178, "t": "R2=0.280"}]},
      "mark": {"type": "text", "fontSize": 26, "color": "#000000", "baseline": "middle", "align": "center"},
      "encoding": {"x": {"field": "x", "type": "quantitative"}, "y": {"field": "y", "type": "quantitative"}, "text": {"field": "t"}}}
    ]
   },
   {
    "vconcat": [
     {
      "width": 1, "height": 1, "view": {"stroke": null},
      "data": {"values": [{"g": "-MCFA"}, {"g": "+MCFA"}]},
      "mark": {"type": "point", "filled": true, "opacity": 1, "size": 0},
      "encoding": {
       "color": {"field": "g", "type": "nominal", "scale": {"domain": ["-MCFA", "+MCFA"], "range": ["#c74fe8", "#3fe083"]},
        "legend": {"title": ["", "Feed"], "titleLineHeight": 52, "orient": "right", "offset": 23, "padding": 0, "titleFont": "Liberation Sans", "titleFontSize": 36, "titleFontWeight": "normal", "titleColor": "#000000", "titlePadding": 22, "titleLimit": 600,
         "labelFont": "Liberation Sans", "labelFontSize": 35, "labelColor": "#000000", "labelOffset": 11, "labelLimit": 600, "symbolSize": 1024, "symbolOpacity": 1, "symbolStrokeWidth": 0, "rowPadding": 7,
         "labelExpr": "datum.value == '-MCFA' ? '-\u00a0\u00a0MCFA' : '+\u00a0\u00a0MCFA'"}},
       "shape": {"field": "g", "type": "nominal", "scale": {"domain": ["-MCFA", "+MCFA"], "range": [
         "M-1,-0.045H1V0.045H-1ZM0.3,0L0.26,0.15L0.15,0.26L0,0.3L-0.15,0.26L-0.26,0.15L-0.3,0L-0.26,-0.15L-0.15,-0.26L0,-0.3L0.15,-0.26L0.26,-0.15Z",
         "M-1,-0.045H1V0.045H-1ZM0,-0.33L0.33,0.22L-0.33,0.22Z"]},
        "legend": {"title": ["", "Feed"], "titleLineHeight": 52, "orient": "right", "offset": 23, "padding": 0, "titleFont": "Liberation Sans", "titleFontSize": 36, "titleFontWeight": "normal", "titleColor": "#000000", "titlePadding": 22, "titleLimit": 600,
         "labelFont": "Liberation Sans", "labelFontSize": 35, "labelColor": "#000000", "labelOffset": 11, "labelLimit": 600, "symbolSize": 1024, "symbolOpacity": 1, "symbolStrokeWidth": 0, "rowPadding": 7,
         "labelExpr": "datum.value == '-MCFA' ? '-\u00a0\u00a0MCFA' : '+\u00a0\u00a0MCFA'"}}
      }
     },
     {
      "width": 1, "height": 1, "view": {"stroke": null},
      "data": {"values": [{"g": "H1"}, {"g": "H2"}, {"g": "H3"}]},
      "mark": {"type": "point", "filled": true, "opacity": 1, "size": 0},
      "encoding": {
       "color": {"field": "g", "type": "nominal", "scale": {"domain": ["H1", "H2", "H3"], "range": ["#5aaff2", "#f8cb0b", "#f65a41"]},
        "legend": {"title": "Housing condition", "orient": "right", "offset": 19, "padding": 0, "titleFont": "Liberation Sans", "titleFontSize": 36, "titleFontWeight": "normal", "titleColor": "#000000", "titlePadding": 16, "titleLimit": 600,
         "labelFont": "Liberation Sans", "labelFontSize": 33, "labelColor": "#000000", "labelOffset": 35, "labelLimit": 600, "symbolSize": 1225, "symbolOpacity": 1, "symbolStrokeWidth": 0, "rowPadding": 9}},
       "shape": {"field": "g", "type": "nominal", "scale": {"domain": ["H1", "H2", "H3"], "range": [
         "M-0.4,-0.045H1.6V0.045H-0.4ZM0.9,0L0.86,0.15L0.75,0.26L0.6,0.3L0.45,0.26L0.34,0.15L0.3,0L0.34,-0.15L0.45,-0.26L0.6,-0.3L0.75,-0.26L0.86,-0.15Z",
         "M-0.4,-0.045H1.6V0.045H-0.4ZM0.6,-0.33L0.93,0.22L0.27,0.22Z",
         "M-0.4,-0.045H1.6V0.045H-0.4ZM0.34,-0.26H0.86V0.26H0.34Z"]},
        "legend": {"title": "Housing condition", "orient": "right", "offset": 19, "padding": 0, "titleFont": "Liberation Sans", "titleFontSize": 36, "titleFontWeight": "normal", "titleColor": "#000000", "titlePadding": 16, "titleLimit": 600,
         "labelFont": "Liberation Sans", "labelFontSize": 33, "labelColor": "#000000", "labelOffset": 35, "labelLimit": 600, "symbolSize": 1225, "symbolOpacity": 1, "symbolStrokeWidth": 0, "rowPadding": 9}}
      }
     }
    ],
    "spacing": 66,
    "resolve": {"scale": {"color": "independent", "shape": "independent"}}
   }
  ],
  "spacing": 34,
  "resolve": {"scale": {"color": "independent", "fill": "independent", "stroke": "independent", "shape": "independent", "size": "independent"}}
 },
 {
  "hconcat": [
   {
    "title": {"text": "c", "anchor": "start", "frame": "bounds", "font": "Liberation Sans", "fontSize": 52, "fontWeight": "bold", "dx": -7, "dy": 110, "offset": 0, "baseline": "alphabetic"},
    "vconcat": [
     {
      "width": 544, "height": 376,
      "title": {"text": "H1", "anchor": "start", "frame": "group", "font": "DejaVu Sans", "fontSize": 28, "fontWeight": "bold", "dx": 8, "dy": 14, "offset": 0, "baseline": "alphabetic"},
      "layer": [
       {"data": {"name": "pc"}, "mark": {"type": "point", "filled": true, "opacity": 1},
        "encoding": {
         "x": {"field": "x", "type": "quantitative", "scale": {"domain": [-0.15, 0.143], "nice": false, "zero": false},
          "axis": {"title": "Axis.1\u00a0\u00a0\u00a0[25.2%]", "values": [-0.15,-0.125,-0.1,-0.075,-0.05,-0.025,0,0.025,0.05,0.075,0.1,0.125], "labelFontSize": 18.5, "titleFontSize": 23, "tickSize": 6.5, "labelPadding": 4, "titlePadding": 6,
           "labelExpr": "abs(datum.value*20-round(datum.value*20))<0.001 ? replace(format(datum.value,'.2f'),'\u2212','-') : ''",
           "tickOpacity": {"condition": {"test": "abs(datum.value*20-round(datum.value*20))<0.001", "value": 1}, "value": 0},
           "gridWidth": {"condition": {"test": "abs(datum.value*20-round(datum.value*20))<0.001", "value": 1.1}, "value": 0.55}}},
         "y": {"field": "y", "type": "quantitative", "scale": {"domain": [-0.119, 0.135], "nice": false, "zero": false},
          "axis": {"title": "Axis.2\u00a0\u00a0\u00a0[18.1%]", "values": [-0.1,-0.075,-0.05,-0.025,0,0.025,0.05,0.075,0.1,0.125], "labelFontSize": 18.5, "titleFontSize": 23, "tickSize": 6, "labelPadding": 3.5, "titlePadding": 8,
           "labelExpr": "abs(datum.value*20-round(datum.value*20))<0.001 ? replace(format(datum.value,'.2f'),'\u2212','-') : ''",
           "tickOpacity": {"condition": {"test": "abs(datum.value*20-round(datum.value*20))<0.001", "value": 1}, "value": 0},
           "gridWidth": {"condition": {"test": "abs(datum.value*20-round(datum.value*20))<0.001", "value": 1.1}, "value": 0.55}}},
         "color": {"field": "g", "type": "nominal", "scale": {"domain": ["-MCFA", "+MCFA"], "range": ["#c74fe8", "#3fe083"]}, "legend": null},
         "shape": {"field": "g", "type": "nominal", "scale": {"domain": ["-MCFA", "+MCFA"], "range": ["circle", "triangle-up"]}, "legend": null},
         "size": {"field": "g", "type": "ordinal", "scale": {"domain": ["-MCFA", "+MCFA"], "range": [46, 66]}, "legend": null}
        }},
       {"data": {"name": "ec"}, "mark": {"type": "line", "interpolate": "cardinal-closed", "strokeWidth": 1.2},
        "encoding": {"x": {"field": "x", "type": "quantitative"}, "y": {"field": "y", "type": "quantitative"},
         "color": {"field": "g", "type": "nominal", "legend": null}, "order": {"field": "i", "type": "quantitative"}}},
       {"data": {"values": [{"x": 0.1, "y": 0.118, "t": "P=1e-04"}, {"x": 0.1, "y": 0.099, "t": "R2=0.112"}]},
        "mark": {"type": "text", "fontSize": 23, "color": "#000000", "baseline": "middle", "align": "center"},
        "encoding": {"x": {"field": "x", "type": "quantitative"}, "y": {"field": "y", "type": "quantitative"}, "text": {"field": "t"}}}
      ]
     }
    ]
   },
   {
    "title": {"text": "d", "anchor": "start", "frame": "bounds", "font": "Liberation Sans", "fontSize": 52, "fontWeight": "bold", "dx": -13, "dy": 111, "offset": 0, "baseline": "alphabetic"},
    "vconcat": [
     {
      "width": 549, "height": 376,
      "title": {"text": "H2", "anchor": "start", "frame": "group", "font": "DejaVu Sans", "fontSize": 28, "fontWeight": "bold", "dx": 3, "dy": 12.5, "offset": 0, "baseline": "alphabetic"},
      "layer": [
       {"data": {"name": "pd"}, "mark": {"type": "point", "filled": true, "opacity": 1},
        "encoding": {
         "x": {"field": "x", "type": "quantitative", "scale": {"domain": [-0.2378, 0.0935], "nice": false, "zero": false},
          "axis": {"title": "Axis.1\u00a0\u00a0\u00a0[37.9%]", "values": [-0.2,-0.15,-0.1,-0.05,0,0.05], "labelFontSize": 18.5, "titleFontSize": 23, "tickSize": 6.5, "labelPadding": 4, "titlePadding": 6,
           "labelExpr": "abs(datum.value*10-round(datum.value*10))<0.001 ? replace(format(datum.value,'.1f'),'\u2212','-') : ''",
           "tickOpacity": {"condition": {"test": "abs(datum.value*10-round(datum.value*10))<0.001", "value": 1}, "value": 0},
           "gridWidth": {"condition": {"test": "abs(datum.value*10-round(datum.value*10))<0.001", "value": 1.1}, "value": 0.55}}},
         "y": {"field": "y", "type": "quantitative", "scale": {"domain": [-0.1656, 0.133], "nice": false, "zero": false},
          "axis": {"title": "Axis.2\u00a0\u00a0\u00a0[25%]", "values": [-0.15,-0.1,-0.05,0,0.05,0.1], "labelFontSize": 18.5, "titleFontSize": 23, "tickSize": 6, "labelPadding": 6, "titlePadding": 5,
           "labelExpr": "abs(datum.value*10-round(datum.value*10))<0.001 ? replace(format(datum.value,'.1f'),'\u2212','-') : ''",
           "tickOpacity": {"condition": {"test": "abs(datum.value*10-round(datum.value*10))<0.001", "value": 1}, "value": 0},
           "gridWidth": {"condition": {"test": "abs(datum.value*10-round(datum.value*10))<0.001", "value": 1.1}, "value": 0.55}}},
         "color": {"field": "g", "type": "nominal", "scale": {"domain": ["-MCFA", "+MCFA"], "range": ["#c74fe8", "#3fe083"]}, "legend": null},
         "shape": {"field": "g", "type": "nominal", "scale": {"domain": ["-MCFA", "+MCFA"], "range": ["circle", "triangle-up"]}, "legend": null},
         "size": {"field": "g", "type": "ordinal", "scale": {"domain": ["-MCFA", "+MCFA"], "range": [46, 66]}, "legend": null}
        }},
       {"data": {"name": "ed"}, "mark": {"type": "line", "interpolate": "cardinal-closed", "strokeWidth": 1.2},
        "encoding": {"x": {"field": "x", "type": "quantitative"}, "y": {"field": "y", "type": "quantitative"},
         "color": {"field": "g", "type": "nominal", "legend": null}, "order": {"field": "i", "type": "quantitative"}}},
       {"data": {"values": [{"x": -0.2, "y": 0.119, "t": "P=1e-04"}, {"x": -0.2, "y": 0.0987, "t": "R2=0.274"}]},
        "mark": {"type": "text", "fontSize": 23, "color": "#000000", "baseline": "middle", "align": "center"},
        "encoding": {"x": {"field": "x", "type": "quantitative"}, "y": {"field": "y", "type": "quantitative"}, "text": {"field": "t"}}}
      ]
     }
    ]
   },
   {
    "title": {"text": "e", "anchor": "start", "frame": "bounds", "font": "Liberation Sans", "fontSize": 52, "fontWeight": "bold", "dx": 11, "dy": 109, "offset": 0, "baseline": "alphabetic"},
    "vconcat": [
     {
      "width": 541, "height": 370,
      "title": {"text": "H3", "anchor": "start", "frame": "group", "font": "DejaVu Sans", "fontSize": 28, "fontWeight": "bold", "dx": -1, "dy": 16.5, "offset": 0, "baseline": "alphabetic"},
      "layer": [
       {"data": {"name": "pe"}, "mark": {"type": "point", "filled": true, "opacity": 1},
        "encoding": {
         "x": {"field": "x", "type": "quantitative", "scale": {"domain": [-0.1541, 0.1146], "nice": false, "zero": false},
          "axis": {"title": "Axis.1\u00a0\u00a0\u00a0[21.5%]", "values": [-0.15,-0.125,-0.1,-0.075,-0.05,-0.025,0,0.025,0.05,0.075,0.1], "labelFontSize": 18.5, "titleFontSize": 23, "tickSize": 6.5, "labelPadding": 4, "titlePadding": 6,
           "labelExpr": "abs(datum.value*20-round(datum.value*20))<0.001 ? replace(format(datum.value,'.2f'),'\u2212','-') : ''",
           "tickOpacity": {"condition": {"test": "abs(datum.value*20-round(datum.value*20))<0.001", "value": 1}, "value": 0},
           "gridWidth": {"condition": {"test": "abs(datum.value*20-round(datum.value*20))<0.001", "value": 1.1}, "value": 0.55}}},
         "y": {"field": "y", "type": "quantitative", "scale": {"domain": [-0.152, 0.1417], "nice": false, "zero": false},
          "axis": {"title": "Axis.2\u00a0\u00a0\u00a0[20.7%]", "values": [-0.15,-0.125,-0.1,-0.075,-0.05,-0.025,0,0.025,0.05,0.075,0.1,0.125], "labelFontSize": 18.5, "titleFontSize": 23, "tickSize": 7, "labelPadding": 5, "titlePadding": 7,
           "labelExpr": "abs(datum.value*20-round(datum.value*20))<0.001 ? replace(format(datum.value,'.2f'),'\u2212','-') : ''",
           "tickOpacity": {"condition": {"test": "abs(datum.value*20-round(datum.value*20))<0.001", "value": 1}, "value": 0},
           "gridWidth": {"condition": {"test": "abs(datum.value*20-round(datum.value*20))<0.001", "value": 1.1}, "value": 0.55}}},
         "color": {"field": "g", "type": "nominal", "scale": {"domain": ["-MCFA", "+MCFA"], "range": ["#c74fe8", "#3fe083"]}, "legend": null},
         "shape": {"field": "g", "type": "nominal", "scale": {"domain": ["-MCFA", "+MCFA"], "range": ["circle", "triangle-up"]}, "legend": null},
         "size": {"field": "g", "type": "ordinal", "scale": {"domain": ["-MCFA", "+MCFA"], "range": [46, 66]}, "legend": null}
        }},
       {"data": {"name": "ee"}, "mark": {"type": "line", "interpolate": "cardinal-closed", "strokeWidth": 1.2},
        "encoding": {"x": {"field": "x", "type": "quantitative"}, "y": {"field": "y", "type": "quantitative"},
         "color": {"field": "g", "type": "nominal", "legend": null}, "order": {"field": "i", "type": "quantitative"}}},
       {"data": {"values": [{"x": 0.07, "y": 0.1187, "t": "P=1e-04"}, {"x": 0.07, "y": 0.0995, "t": "R2=0.127"}]},
        "mark": {"type": "text", "fontSize": 23, "color": "#000000", "baseline": "middle", "align": "center"},
        "encoding": {"x": {"field": "x", "type": "quantitative"}, "y": {"field": "y", "type": "quantitative"}, "text": {"field": "t"}}}
      ]
     }
    ]
   }
  ],
  "spacing": 21
 }
]
}
